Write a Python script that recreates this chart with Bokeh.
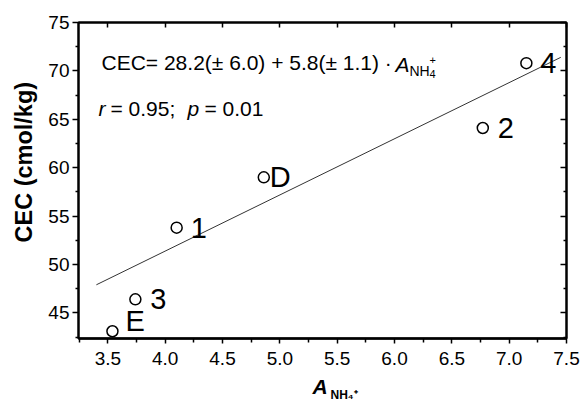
from math import pi
from bokeh.plotting import figure
from bokeh.models import (Range1d, LinearAxis, FixedTicker, Label, ColumnDataSource, Title,
                          NumeralTickFormatter, CustomJSTickFormatter)
from bokeh.core.properties import value
from bokeh.embed import file_html
from bokeh.resources import INLINE

# ---- data ----
a_nh4 = [3.54, 3.74, 4.10, 4.86, 6.77, 7.15]
cec = [43.1, 46.4, 53.8, 59.0, 64.1, 70.8]
sample_labels = ["E", "3", "1", "D", "2", "4"]
fit_x = [3.40, 7.45]
fit_y = [47.9, 71.4]
x_major = [3.5, 4.0, 4.5, 5.0, 5.5, 6.0, 6.5, 7.0, 7.5]
x_minor = [3.25, 3.75, 4.25, 4.75, 5.25, 5.75, 6.25, 6.75, 7.25]
y_major = [45, 50, 55, 60, 65, 70, 75]
y_minor = [42.5, 47.5, 52.5, 57.5, 62.5, 67.5, 72.5]

# label styling (screen offsets)
label_dx = [13, 15, 14, 6, 15, 14]
label_dy = [-10, 0, 0, 0, 0, 0]

FONT = "Liberation Sans"

p = figure(width=584, height=408, x_range=Range1d(3.244, 7.5), y_range=Range1d(42.35, 75),
           output_backend="svg", toolbar_location=None,
           min_border_left=78, min_border_right=18, min_border_top=22, min_border_bottom=70)
p.grid.visible = False
p.outline_line_color = "black"
p.outline_line_width = 2
p.background_fill_color = "white"
p.border_fill_color = "white"

# bottom axis
xa = p.xaxis[0]
xa.ticker = FixedTicker(ticks=x_major, minor_ticks=x_minor)
xa.formatter = NumeralTickFormatter(format="0.0")
xa.axis_line_width = 2.5
xa.major_tick_in = 0
xa.major_tick_out = 5
xa.minor_tick_in = 0
xa.minor_tick_out = 4
xa.major_tick_line_width = 1.5
xa.minor_tick_line_width = 1.5
xa.major_label_text_font = FONT
xa.major_label_text_font_size = "19px"
xa.major_label_text_color = "black"
xa.major_label_standoff = 8

# left axis
ya = p.yaxis[0]
ya.ticker = FixedTicker(ticks=y_major, minor_ticks=y_minor)
ya.formatter = NumeralTickFormatter(format="0")
ya.axis_line_width = 2
ya.major_tick_in = 0
ya.major_tick_out = 6
ya.minor_tick_in = 0
ya.minor_tick_out = 3
ya.major_tick_line_width = 1.5
ya.minor_tick_line_width = 1.5
ya.major_label_text_font = FONT
ya.major_label_text_font_size = "19px"
ya.major_label_text_color = "black"
ya.major_label_standoff = 3

blank = CustomJSTickFormatter(code="return '';")
top = LinearAxis(ticker=FixedTicker(ticks=x_major, minor_ticks=[]), formatter=blank,
                 major_tick_in=5, major_tick_out=0, minor_tick_in=0, minor_tick_out=0,
                 axis_line_width=2, major_tick_line_width=1.5, major_label_standoff=0,
                 major_label_text_font_size="1px")
right = LinearAxis(ticker=FixedTicker(ticks=y_major, minor_ticks=y_minor), formatter=blank,
                   major_tick_in=6, major_tick_out=0, minor_tick_in=3, minor_tick_out=0,
                   axis_line_width=2, major_tick_line_width=1.5, minor_tick_line_width=1.5,
                   major_label_standoff=0, major_label_text_font_size="1px")
p.add_layout(top, "above")
p.add_layout(right, "right")

# y-axis title as a side title
ytitle = Title(text="CEC (cmol/kg)", align="left", offset=96, standoff=17,
               text_font=FONT, text_font_size="23.5px", text_font_style="bold",
               text_color="black", text_line_height=0.8)
p.add_layout(ytitle, "left")

# regression line
p.line(fit_x, fit_y, line_color="#333333", line_width=1)

# points
src = ColumnDataSource(dict(x=a_nh4, y=cec, label=sample_labels, dx=label_dx, dy=label_dy))
p.scatter("x", "y", source=src, marker="circle", size=11, fill_color="white",
          line_color="black", line_width=1.5)
p.text("x", "y", text="label", source=src, x_offset="dx", y_offset="dy",
       text_font=value(FONT), text_font_size=value("29px"), text_color="black",
       text_align="left", text_baseline="middle")

def lab(text, x, y, size, style="normal", place="center", **kw):
    p.add_layout(Label(x=x, y=y, x_units="screen", y_units="screen", text=text,
                       text_font=FONT, text_font_size=size, text_font_style=style,
                       text_color="black", text_baseline=kw.pop("baseline", "middle"),
                       text_align=kw.pop("align", "left"), **kw), place)

# equation row 1
lab("CEC= 28.2(\u00b1 6.0) + 5.8(\u00b1 1.1) \u00b7", 23, 276, "21px")
lab("A", 317, 274, "21px", "italic")
lab("NH", 331, 268, "14px")
lab("+", 351, 279, "11px")
lab("4", 351, 265, "11px")
# equation row 2
lab("r", 20, 230, "21px", "italic")
lab("= 0.95;", 32, 230, "21px")
lab("p", 109, 230, "21px", "italic")
lab("= 0.01", 126, 230, "21px")

# x-axis label: "A" in the panel below, subscript in the panel above (not clipped)
lab("A", 234, 4, "21px", "bold italic", place="below", baseline="alphabetic")
lab("NH\u2084\u207a", 252, -372, "12px", "bold", place="above", baseline="alphabetic")

open("out.html", "w").write(file_html(p, INLINE))
